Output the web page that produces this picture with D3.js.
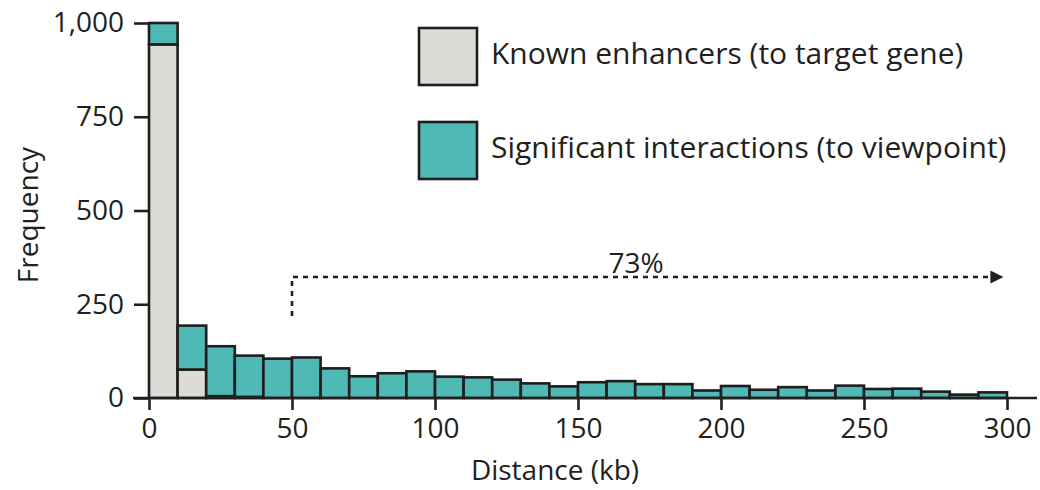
<!DOCTYPE html>
<html>
<head>
<meta charset="utf-8">
<script src="https://cdn.jsdelivr.net/npm/d3@7"></script>
<style>
  body { margin: 0; background: #fff; }
  text { font-family: "Open Sans", sans-serif; fill: #231f20; }
</style>
</head>
<body>
<div class="canvas"></div>
<script>
// 10 kb bins, start of each bin
const binStart = [0, 10, 20, 30, 40, 50, 60, 70, 80, 90, 100, 110, 120, 130, 140,
  150, 160, 170, 180, 190, 200, 210, 220, 230, 240, 250, 260, 270, 280, 290];
// known enhancers (grey, bottom of stack)
const known = [943, 76, 5, 3, 0, 0, 0, 0, 0, 0, 0, 0, 0, 0, 0,
  0, 0, 0, 0, 0, 0, 0, 0, 0, 0, 0, 0, 0, 0, 0];
// significant interactions (teal, on top)
const significant = [57, 117, 133, 110, 105, 108, 79, 58, 66, 71, 57, 55, 49, 39, 31,
  42, 45, 37, 37, 20, 32, 22, 29, 20, 33, 24, 25, 17, 9, 15];
const yTicks = [0, 250, 500, 750, 1000];
const xTicks = [0, 50, 100, 150, 200, 250, 300];
const seriesNames = ['Known enhancers (to target gene)', 'Significant interactions (to viewpoint)'];
const colors = ['#dcdbd6', '#4fbab5'];

const svg = d3.select('.canvas')
  .append('svg')
  .attr('width', 1040)
  .attr('height', 490);

const x = d3.scaleLinear().domain([0, 300]).range([149, 1007]);
const y = d3.scaleLinear().domain([0, 1000]).range([398, 23]);

const rows = binStart.map((b, i) => ({ bin: b, known: known[i], significant: significant[i] }));
const stacked = d3.stack().keys(['known', 'significant'])(rows);

const bars = svg.append('g');
stacked.forEach((layer, k) => {
  bars.append('g')
    .selectAll('rect')
    .data(layer.filter(d => d[1] > d[0]))
    .join('rect')
    .attr('x', d => x(d.data.bin))
    .attr('width', d => x(d.data.bin + 10) - x(d.data.bin))
    .attr('y', d => y(d[1]))
    .attr('height', d => y(d[0]) - y(d[1]))
    .attr('fill', colors[k])
    .attr('stroke', '#1f1d1e')
    .attr('stroke-width', 2.6);
});

// y axis
const yAxis = svg.append('g')
  .attr('transform', 'translate(148,0)')
  .call(d3.axisLeft(y).tickValues(yTicks).tickFormat(d3.format(',')).tickSize(14).tickPadding(10));
yAxis.select('.domain').remove();
yAxis.selectAll('line').attr('stroke', '#231f20').attr('stroke-width', 2.6);
yAxis.selectAll('text').attr('font-size', 28).style('font-family', '"Open Sans", sans-serif').attr('fill', '#231f20');

// x axis
const xAxis = svg.append('g')
  .attr('transform', 'translate(0,398)')
  .call(d3.axisBottom(x).tickValues(xTicks).tickSize(12).tickPadding(8));
xAxis.select('.domain').remove();
xAxis.selectAll('line').attr('stroke', '#231f20').attr('stroke-width', 2.6);
xAxis.selectAll('text').attr('font-size', 28).style('font-family', '"Open Sans", sans-serif').attr('fill', '#231f20');

svg.append('line')
  .attr('x1', 133).attr('x2', 1037)
  .attr('y1', 398).attr('y2', 398)
  .attr('stroke', '#231f20').attr('stroke-width', 2.6);

// axis titles
svg.append('text')
  .attr('transform', 'translate(38,215) rotate(-90)')
  .attr('text-anchor', 'middle')
  .attr('font-size', 28)
  .text('Frequency');

svg.append('text')
  .attr('x', 555).attr('y', 480)
  .attr('text-anchor', 'middle')
  .attr('font-size', 28)
  .text('Distance (kb)');

// legend
const legend = svg.append('g');
seriesNames.forEach((name, i) => {
  const ly = 28 + i * 94;
  legend.append('rect')
    .attr('x', 419).attr('y', ly)
    .attr('width', 58).attr('height', 57)
    .attr('fill', colors[i])
    .attr('stroke', '#1f1d1e').attr('stroke-width', 2.6);
  legend.append('text')
    .attr('x', 491).attr('y', ly + 36)
    .attr('font-size', 30)
    .text(name);
});

// 73% annotation
svg.append('defs').append('marker')
  .attr('id', 'arrow')
  .attr('viewBox', '0 0 10 10')
  .attr('refX', 2).attr('refY', 5)
  .attr('markerWidth', 5).attr('markerHeight', 5)
  .attr('orient', 'auto')
  .append('path')
  .attr('d', 'M0,0 L10,5 L0,10 Z')
  .attr('fill', '#231f20');

svg.append('path')
  .attr('d', `M${x(50)},316 L${x(50)},277 L993,277`)
  .attr('fill', 'none')
  .attr('stroke', '#231f20')
  .attr('stroke-width', 2.6)
  .attr('stroke-dasharray', '5,5')
  .attr('marker-end', 'url(#arrow)');

svg.append('text')
  .attr('x', 636).attr('y', 273)
  .attr('text-anchor', 'middle')
  .attr('font-size', 28)
  .text('73%');
</script>
</body>
</html>
